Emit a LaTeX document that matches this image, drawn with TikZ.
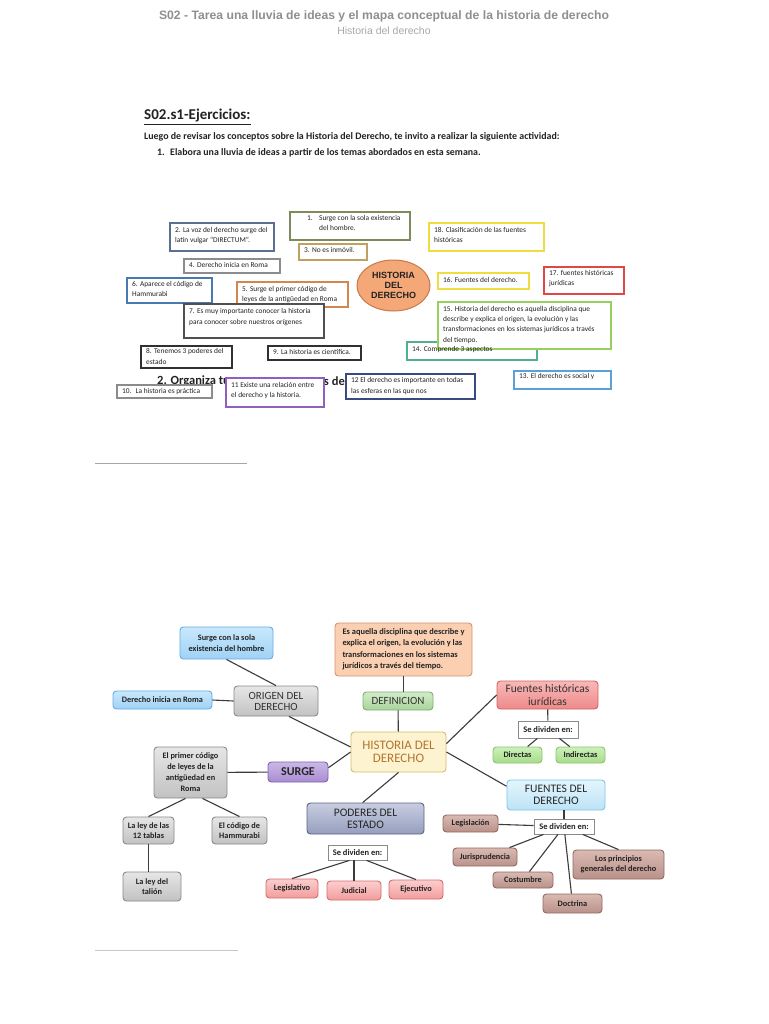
\documentclass[tikz,border=0pt]{standalone}
\usepackage{fontspec}
\setmainfont{Carlito}
\newfontfamily\arialf{Liberation Sans}
\usetikzlibrary{shapes.geometric,calc}
\newcommand\fsz[2]{\fontsize{#1}{#2}\selectfont}
% colours
\definecolor{hdrgray}{HTML}{8F8F8F}
\definecolor{hdrlight}{HTML}{A8A8A8}
\definecolor{txtdark}{HTML}{222222}
\definecolor{linegray}{HTML}{3C3C3C}
\definecolor{bsc1}{HTML}{7D8C5A}
\definecolor{bsc2}{HTML}{5B7090}
\definecolor{bsc3}{HTML}{C0A060}
\definecolor{bsc4}{HTML}{8C8C8C}
\definecolor{bsc5}{HTML}{D08850}
\definecolor{bsc6}{HTML}{4A78B0}
\definecolor{bsc7}{HTML}{505050}
\definecolor{bsc8}{HTML}{303030}
\definecolor{bsc11}{HTML}{9060C0}
\definecolor{bsc12}{HTML}{3A4A80}
\definecolor{bsc13}{HTML}{5BA0D8}
\definecolor{bsc14}{HTML}{50B090}
\definecolor{bsc15}{HTML}{98D060}
\definecolor{bsc16}{HTML}{EEDC40}
\definecolor{bsc17}{HTML}{E04848}
\definecolor{ellF}{HTML}{F4A878}
\definecolor{ellD}{HTML}{C8784A}
\definecolor{cbluet}{HTML}{C9E8FC}
\definecolor{cblueb}{HTML}{9FD2F6}
\definecolor{cblued}{HTML}{62AEE4}
\definecolor{cgrayt}{HTML}{E6E6E6}
\definecolor{cgrayb}{HTML}{C2C2C2}
\definecolor{cgrayd}{HTML}{8A8A8A}
\definecolor{cpeachf}{HTML}{FBD0B2}
\definecolor{cpeachd}{HTML}{D69468}
\definecolor{cgreent}{HTML}{D2ECC8}
\definecolor{cgreenb}{HTML}{A8D49A}
\definecolor{cgreend}{HTML}{7FB070}
\definecolor{cyellf}{HTML}{FEF3D0}
\definecolor{cyelld}{HTML}{D8BC6C}
\definecolor{histtxt}{HTML}{B4742C}
\definecolor{cpurt}{HTML}{CBB8E6}
\definecolor{cpurb}{HTML}{A88CD2}
\definecolor{cpurd}{HTML}{7E62B2}
\definecolor{credt}{HTML}{F9B8B8}
\definecolor{credb}{HTML}{EE8A8A}
\definecolor{credd}{HTML}{D06464}
\definecolor{clgrt}{HTML}{CDF0B8}
\definecolor{clgrb}{HTML}{A6DC8A}
\definecolor{clgrd}{HTML}{8CC472}
\definecolor{clblt}{HTML}{E4F5FD}
\definecolor{clblb}{HTML}{BDE3F6}
\definecolor{clbld}{HTML}{7BC6EA}
\definecolor{cslatet}{HTML}{C8CDE0}
\definecolor{cslateb}{HTML}{969EBE}
\definecolor{cslated}{HTML}{5C6483}
\definecolor{cpinkt}{HTML}{FCCECE}
\definecolor{cpinkb}{HTML}{F29C9C}
\definecolor{cpinkd}{HTML}{D46C6C}
\definecolor{cbrownt}{HTML}{D9BAB2}
\definecolor{cbrownb}{HTML}{B9918A}
\definecolor{cbrownd}{HTML}{93695F}
\tikzset{
  bsline/.style={line width=1.1pt},
  bstext/.style={anchor=north west, align=left, inner sep=0pt, font=\fsz{7.4}{10.3}, text=txtdark},
  conn/.style={draw=linegray, line width=1.1pt},
  mbox/.style={rounded corners=3.5pt, line width=0.9pt, align=center, inner sep=1pt},
  smalltxt/.style={font=\bfseries\fsz{8.3}{10.5}, text=txtdark},
  cblue/.style={top color=cbluet, bottom color=cblueb, draw=cblued},
  cgray/.style={top color=cgrayt, bottom color=cgrayb, draw=cgrayd},
  cpeach/.style={fill=cpeachf, draw=cpeachd},
  cgreen/.style={top color=cgreent, bottom color=cgreenb, draw=cgreend},
  cyell/.style={fill=cyellf, draw=cyelld},
  cpur/.style={top color=cpurt, bottom color=cpurb, draw=cpurd},
  cred/.style={top color=credt, bottom color=credb, draw=credd},
  clgr/.style={top color=clgrt, bottom color=clgrb, draw=clgrd},
  clbl/.style={top color=clblt, bottom color=clblb, draw=clbld},
  cslate/.style={top color=cslatet, bottom color=cslateb, draw=cslated},
  cpink/.style={top color=cpinkt, bottom color=cpinkb, draw=cpinkd},
  cbrown/.style={top color=cbrownt, bottom color=cbrownb, draw=cbrownd},
  divbox/.style={rectangle, draw=cgrayd, fill=white, line width=0.8pt, inner sep=1pt, font=\bfseries\fsz{8.5}{10}, text=txtdark},
}
% brainstorm box: name, x1, y1, x2, y2, colour, text y-offset, text
\newcommand\bsb[8]{%
  \draw[bsline,draw=#6,fill=white] (#2,#3) rectangle (#4,#5);
  \node[bstext] (#1) at (#2+5,#3+#7) {#8};}
\begin{document}
\begin{tikzpicture}[x=1pt,y=-1pt]
\useasboundingbox (0,0) rectangle (768,1024);
\fill[white] (0,0) rectangle (768,1024);

% header
\node[font=\arialf\bfseries\fsz{12.2}{14}, text=hdrgray, inner sep=0pt] (title) at (384,16) {S02 - Tarea una lluvia de ideas y el mapa conceptual de la historia de derecho};
\node[font=\arialf\fsz{10.5}{12}, text=hdrlight, inner sep=0pt] (subtitle) at (384,31) {Historia del derecho};

% separators
\draw[draw=black!35, line width=1pt] (95,463) -- (247,463);
\draw[draw=black!22, line width=1pt] (95,950) -- (238,950);

% ---------- part 1 ----------
\node[font=\bfseries\fsz{15}{17}, anchor=west, inner sep=0pt, text=txtdark] (ejer) at (144,117) {\underline{S02.s1-Ejercicios:}};
\node[font=\bfseries\fsz{9.9}{11}, anchor=west, inner sep=0pt, text=txtdark] (luego) at (144,137) {Luego de revisar los conceptos sobre la Historia del Derecho, te invito a realizar la siguiente actividad:};
\node[font=\bfseries\fsz{9.9}{11}, anchor=west, inner sep=0pt, text=txtdark] (elab) at (157,153) {\makebox[13pt][l]{1.}Elabora una lluvia de ideas a partir de los temas abordados en esta semana.};

\node[font=\bfseries\fsz{12.5}{14}, anchor=west, inner sep=0pt, text=txtdark] (org1) at (157,381) {2. Organiza tu};
\node[font=\bfseries\fsz{12.5}{14}, anchor=east, inner sep=0pt, text=txtdark] (org2) at (345,381) {s de};

\bsb{b2}{170}{223}{274}{251}{bsc2}{4}{2. La voz del derecho surge del\\latín vulgar “DIRECTUM”.}
\bsb{b1}{290}{212}{410}{240}{bsc1}{3}{\hspace*{12pt}\makebox[12pt][l]{1.}Surge con la sola existencia\\\hspace*{24pt}del hombre.}
\bsb{b3}{299}{244}{367}{260}{bsc3}{3.5}{3. No es inmóvil.}
\bsb{b4}{184}{259}{280}{273}{bsc4}{3.5}{4. Derecho inicia en Roma}
\bsb{b6}{127}{278}{212}{303}{bsc6}{2.8}{6. Aparece el código de\\Hammurabi}
\bsb{b5}{237}{282}{348}{307}{bsc5}{3.8}{5. Surge el primer código de\\leyes de la antigüedad en Roma}
\bsb{b7}{184}{304}{324}{338}{bsc7}{4.5}{7. Es muy importante conocer la historia\\[0.3pt]para conocer sobre nuestros orígenes}
\bsb{b8}{141}{346}{232}{368}{bsc8}{2.5}{8. Tenemos 3 poderes del\\estado}
\bsb{b9}{268}{346}{361}{360}{bsc8}{3}{9. La historia es científica.}
\bsb{b10}{117}{385}{212}{398}{bsc4}{3}{10.\hspace{4pt}La historia es práctica}
\bsb{b11}{226}{378}{324}{407}{bsc11}{3.8}{11 Existe una relación entre\\el derecho y la historia.}
\bsb{b12}{346}{374}{475}{399}{bsc12}{3.5}{12 El derecho es importante en todas\\las esferas en las que nos}
\bsb{b13}{514}{371}{611}{389}{bsc13}{2.5}{13. El derecho es social y}
\draw[bsline,draw=bsc14,fill=white] (407,342) rectangle (537,360);
\bsb{b15}{438}{302}{611}{349}{bsc15}{3.8}{15. Historia del derecho es aquella disciplina que\\describe y explica el origen, la evolución y las\\transformaciones en los sistemas jurídicos a través\\del tiempo.}
\node[bstext] (b14) at (412,345.8) {14. Comprende 3 aspectos};
\bsb{b16}{438}{273}{529}{289}{bsc16}{3.8}{16. Fuentes del derecho.}
\bsb{b17}{544}{267}{624}{294}{bsc17}{3}{17. fuentes históricas\\jurídicas}
\bsb{b18}{429}{223}{544}{251}{bsc16}{3.8}{18. Clasificación de las fuentes\\históricas}
\node[ellipse, draw=ellD, fill=ellF, line width=1pt, minimum width=73pt, minimum height=51pt, inner sep=0pt, align=center, font=\arialf\bfseries\fsz{9}{9.8}, text=txtdark] (hd) at (393.5,285.5) {HISTORIA\\DEL\\DERECHO};

% ---------- part 2: concept map ----------
\node[mbox, cblue, smalltxt, minimum width=93pt, minimum height=32pt] (surge1) at (226.5,643) {Surge con la sola\\existencia del hombre};
\node[mbox, cblue, smalltxt, minimum width=99pt, minimum height=18pt] (roma) at (162.5,700) {Derecho inicia en Roma};
\node[mbox, cgray, minimum width=84pt, minimum height=30pt, font=\fsz{11}{11}, text=black!80] (origen) at (276,701) {ORIGEN DEL\\DERECHO};
\node[mbox, cpeach, smalltxt, align=left, font=\bfseries\fsz{8.4}{11.5}, minimum width=137pt, minimum height=53pt] (defn) at (403.5,649.5) {Es aquella disciplina que describe y\\explica el origen, la evolución y las\\transformaciones en los sistemas\\jurídicos a través del tiempo.};
\node[mbox, cgreen, minimum width=70pt, minimum height=18pt, font=\fsz{11}{12}, text=black!80] (definicion) at (398,701) {DEFINICION};
\node[mbox, cyell, minimum width=95pt, minimum height=40pt, font=\fsz{13}{13.5}, text=histtxt] (historia) at (398.5,752) {HISTORIA DEL\\DERECHO};
\node[mbox, cpur, minimum width=60pt, minimum height=20pt, font=\bfseries\fsz{12}{12}, text=black!85] (surgeB) at (298,772) {SURGE};
\node[mbox, cred, minimum width=101pt, minimum height=28pt, font=\fsz{11.5}{13}, text=black!80] (fhist) at (547.5,695) {Fuentes históricas\\iurídicas};
\node[divbox, minimum width=60pt, minimum height=17pt] (sd1) at (548,729.5) {Se dividen en:};
\node[mbox, clgr, smalltxt, minimum width=49pt, minimum height=16pt] (directas) at (517.5,755) {Directas};
\node[mbox, clgr, smalltxt, minimum width=49pt, minimum height=16pt] (indirectas) at (580.5,755) {Indirectas};
\node[mbox, clbl, minimum width=98pt, minimum height=30pt, font=\fsz{11.5}{12}, text=black!85] (fder) at (556,795) {FUENTES DEL\\DERECHO};
\node[divbox, minimum width=60pt, minimum height=15pt] (sd2) at (564,826.5) {Se dividen en:};
\node[mbox, cbrown, smalltxt, minimum width=55pt, minimum height=17pt] (legisl) at (470.5,823.5) {Legislación};
\node[mbox, cbrown, smalltxt, minimum width=64pt, minimum height=18pt] (juris) at (485,857) {Jurisprudencia};
\node[mbox, cbrown, smalltxt, minimum width=60pt, minimum height=16pt] (costumbre) at (523,880) {Costumbre};
\node[mbox, cbrown, smalltxt, minimum width=59pt, minimum height=19pt] (doctrina) at (572.5,903.5) {Doctrina};
\node[mbox, cbrown, smalltxt, minimum width=91pt, minimum height=29pt, font=\bfseries\fsz{8.3}{10.3}] (principios) at (618.5,864.5) {Los principios\\generales del derecho};
\node[mbox, cgray, smalltxt, minimum width=73pt, minimum height=51pt, font=\bfseries\fsz{8.3}{11}] (primer) at (190.5,772.5) {El primer código\\de leyes de la\\antigüedad en\\Roma};
\node[mbox, cgray, smalltxt, minimum width=51pt, minimum height=27pt] (tablas) at (148.5,830.5) {La ley de las\\12 tablas};
\node[mbox, cgray, smalltxt, minimum width=55pt, minimum height=27pt] (hammurabi) at (239.5,830.5) {El código de\\Hammurabi};
\node[mbox, cgray, smalltxt, minimum width=58pt, minimum height=29pt] (talion) at (152,886.5) {La ley del\\talión};
\node[mbox, cslate, minimum width=117pt, minimum height=31pt, font=\fsz{11.5}{11.7}, text=black!85] (poderes) at (365.5,818.5) {PODERES DEL\\ESTADO};
\node[divbox, minimum width=59pt, minimum height=15pt] (sd3) at (357.5,852.5) {Se dividen en:};
\node[mbox, cpink, smalltxt, minimum width=52pt, minimum height=19pt] (legislativo) at (292,888.5) {Legislativo};
\node[mbox, cpink, smalltxt, minimum width=54pt, minimum height=19pt] (judicial) at (354,890.5) {Judicial};
\node[mbox, cpink, smalltxt, minimum width=54pt, minimum height=19pt] (ejecutivo) at (416,889.5) {Ejecutivo};

% connectors
\draw[conn] (surge1.south) -- (origen.north);
\draw[conn] (roma.east) -- (origen.west);
\draw[conn] (origen.-50) -- (historia.174);
\draw[conn] (defn.south) -- (defn.south |- definicion.north);
\draw[conn] (definicion) -- (historia);
\draw[conn] (historia.west) -- (surgeB.8);
\draw[conn] (surgeB) -- (primer);
\draw[conn] ($(primer.south)+(-5,0)$) -- (tablas.north);
\draw[conn] ($(primer.south)+(12,0)$) -- (hammurabi.north);
\draw[conn] (tablas.south) -- (tablas.south |- talion.north);
\draw[conn] (historia.south) -- (poderes.100);
\draw[conn] ($(sd3.north)+(3.5,0)$) -- ($(sd3.north)+(3.5,0)$ |- poderes.south);
\draw[conn] ($(sd3.south)+(-8,0)$) -- (legislativo.north);
\draw[conn] (judicial.north |- sd3.south) -- (judicial.north);
\draw[conn] ($(sd3.south)+(9,0)$) -- (ejecutivo.north);
\draw[conn] (historia.10) -- (fhist.west);
\draw[conn] (fhist) -- (sd1);
\draw[conn] (sd1) -- (directas);
\draw[conn] (sd1) -- (indirectas);
\draw[conn] (historia.east) -- (fder.170);
\draw[conn] (sd2.north) -- (sd2.north |- fder.south);
\draw[conn] (sd2) -- (legisl);
\draw[conn] (sd2) -- (juris);
\draw[conn] (sd2) -- (costumbre);
\draw[conn] (sd2) -- (doctrina);
\draw[conn] (sd2) -- (principios.north);
\end{tikzpicture}
\end{document}
